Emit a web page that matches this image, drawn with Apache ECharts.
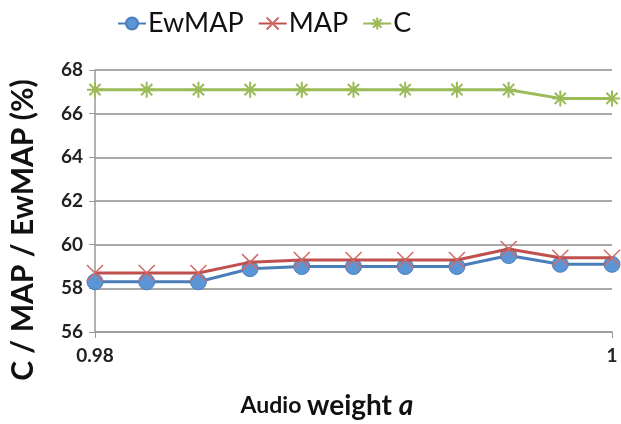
<!DOCTYPE html>
<html><head><meta charset="utf-8">
<script src="https://cdn.jsdelivr.net/npm/echarts@6/dist/echarts.min.js"></script>
<style>html,body{margin:0;padding:0;background:#fff}#c{width:621px;height:424px}</style>
</head><body><div id="c"></div>
<script>
var weights = ['0.98','0.982','0.984','0.986','0.988','0.99','0.992','0.994','0.996','0.998','1'];
var ewmap = [58.3,58.3,58.3,58.9,59.0,59.0,59.0,59.0,59.5,59.1,59.1];
var mapv  = [58.7,58.7,58.7,59.2,59.3,59.3,59.3,59.3,59.8,59.4,59.4];
var cv    = [67.1,67.1,67.1,67.1,67.1,67.1,67.1,67.1,67.1,66.7,66.7];
var yTicks = [56,58,60,62,64,66,68];

var FONT = 'Lato, "Open Sans", sans-serif';
var xSym = 'path://M0,0L10,10M10,0L0,10';
var starSym = 'path://M5,0L5,10M0,5L10,5M1.5,1.5L8.5,8.5M8.5,1.5L1.5,8.5';
var last = weights.length - 1;
var showEnds = function (i) { return i === 0 || i === last; };

var chart = echarts.init(document.getElementById('c'), null, {renderer: 'canvas'});
chart.setOption({
  animation: false,
  textStyle: {fontFamily: FONT},
  legend: {
    top: 5, left: 112, itemWidth: 28, itemHeight: 15, itemGap: 14,
    textStyle: {fontSize: 27, color: '#111', fontFamily: FONT, padding: [0, 0, 0, -3]},
    data: ['EwMAP', 'MAP', 'C']
  },
  grid: {left: 95, right: 9, top: 70, bottom: 92, containLabel: false},
  xAxis: {
    type: 'category', data: weights, boundaryGap: false,
    axisLine: {lineStyle: {color: '#999', width: 1.5}},
    axisTick: {show: true, interval: function (i) { return showEnds(i); }, length: 6, lineStyle: {color: '#999'}},
    axisLabel: {
      interval: function (i) { return showEnds(i); },
      fontSize: 19, fontWeight: 'bold', color: '#222', margin: 14,
      formatter: function (v) { return v; }
    },
    splitLine: {show: false}
  },
  yAxis: {
    type: 'value', min: yTicks[0], max: yTicks[yTicks.length - 1], interval: 2,
    axisLine: {show: true, lineStyle: {color: '#999', width: 1.5}},
    axisTick: {show: true, length: 6, lineStyle: {color: '#999'}},
    axisLabel: {fontSize: 19, fontWeight: 'bold', color: '#222', margin: 12},
    splitLine: {lineStyle: {color: '#8c8c8c', width: 1.5}}
  },
  graphic: [
    {type: 'text', rotation: Math.PI / 2, x: 23, y: 230,
     style: {text: 'C / MAP / EwMAP (%)', font: 'bold 30px ' + FONT, fill: '#111', textAlign: 'center', textVerticalAlign: 'middle'}},
    {type: 'text', x: 327, y: 406,
     style: {
       text: '{a|Audio }{b|weight }{c|a}',
       textAlign: 'center', textVerticalAlign: 'middle',
       rich: {
         a: {fontSize: 23, fontWeight: 'bold', fill: '#111', fontFamily: FONT},
         b: {fontSize: 28, fontWeight: 'bold', fill: '#111', fontFamily: FONT},
         c: {fontSize: 28, fontWeight: 'bold', fontStyle: 'italic', fill: '#111', fontFamily: FONT}
       }
     }}
  ],
  series: [
    {name: 'C', type: 'line', data: cv, z: 2,
     symbol: starSym, symbolSize: 16,
     lineStyle: {color: '#9BBB59', width: 3},
     itemStyle: {color: '#9BBB59', borderColor: '#9BBB59', borderWidth: 2}},
    {name: 'EwMAP', type: 'line', data: ewmap, z: 3,
     symbol: 'circle', symbolSize: 16,
     lineStyle: {color: '#4A7EBB', width: 3},
     itemStyle: {color: '#5B95D6', borderColor: '#4A7EBB', borderWidth: 1}},
    {name: 'MAP', type: 'line', data: mapv, z: 4,
     symbol: xSym, symbolSize: 16,
     lineStyle: {color: '#C0504D', width: 3},
     itemStyle: {color: '#D06A67', borderColor: '#D06A67', borderWidth: 1.5}}
  ]
});
</script></body></html>
